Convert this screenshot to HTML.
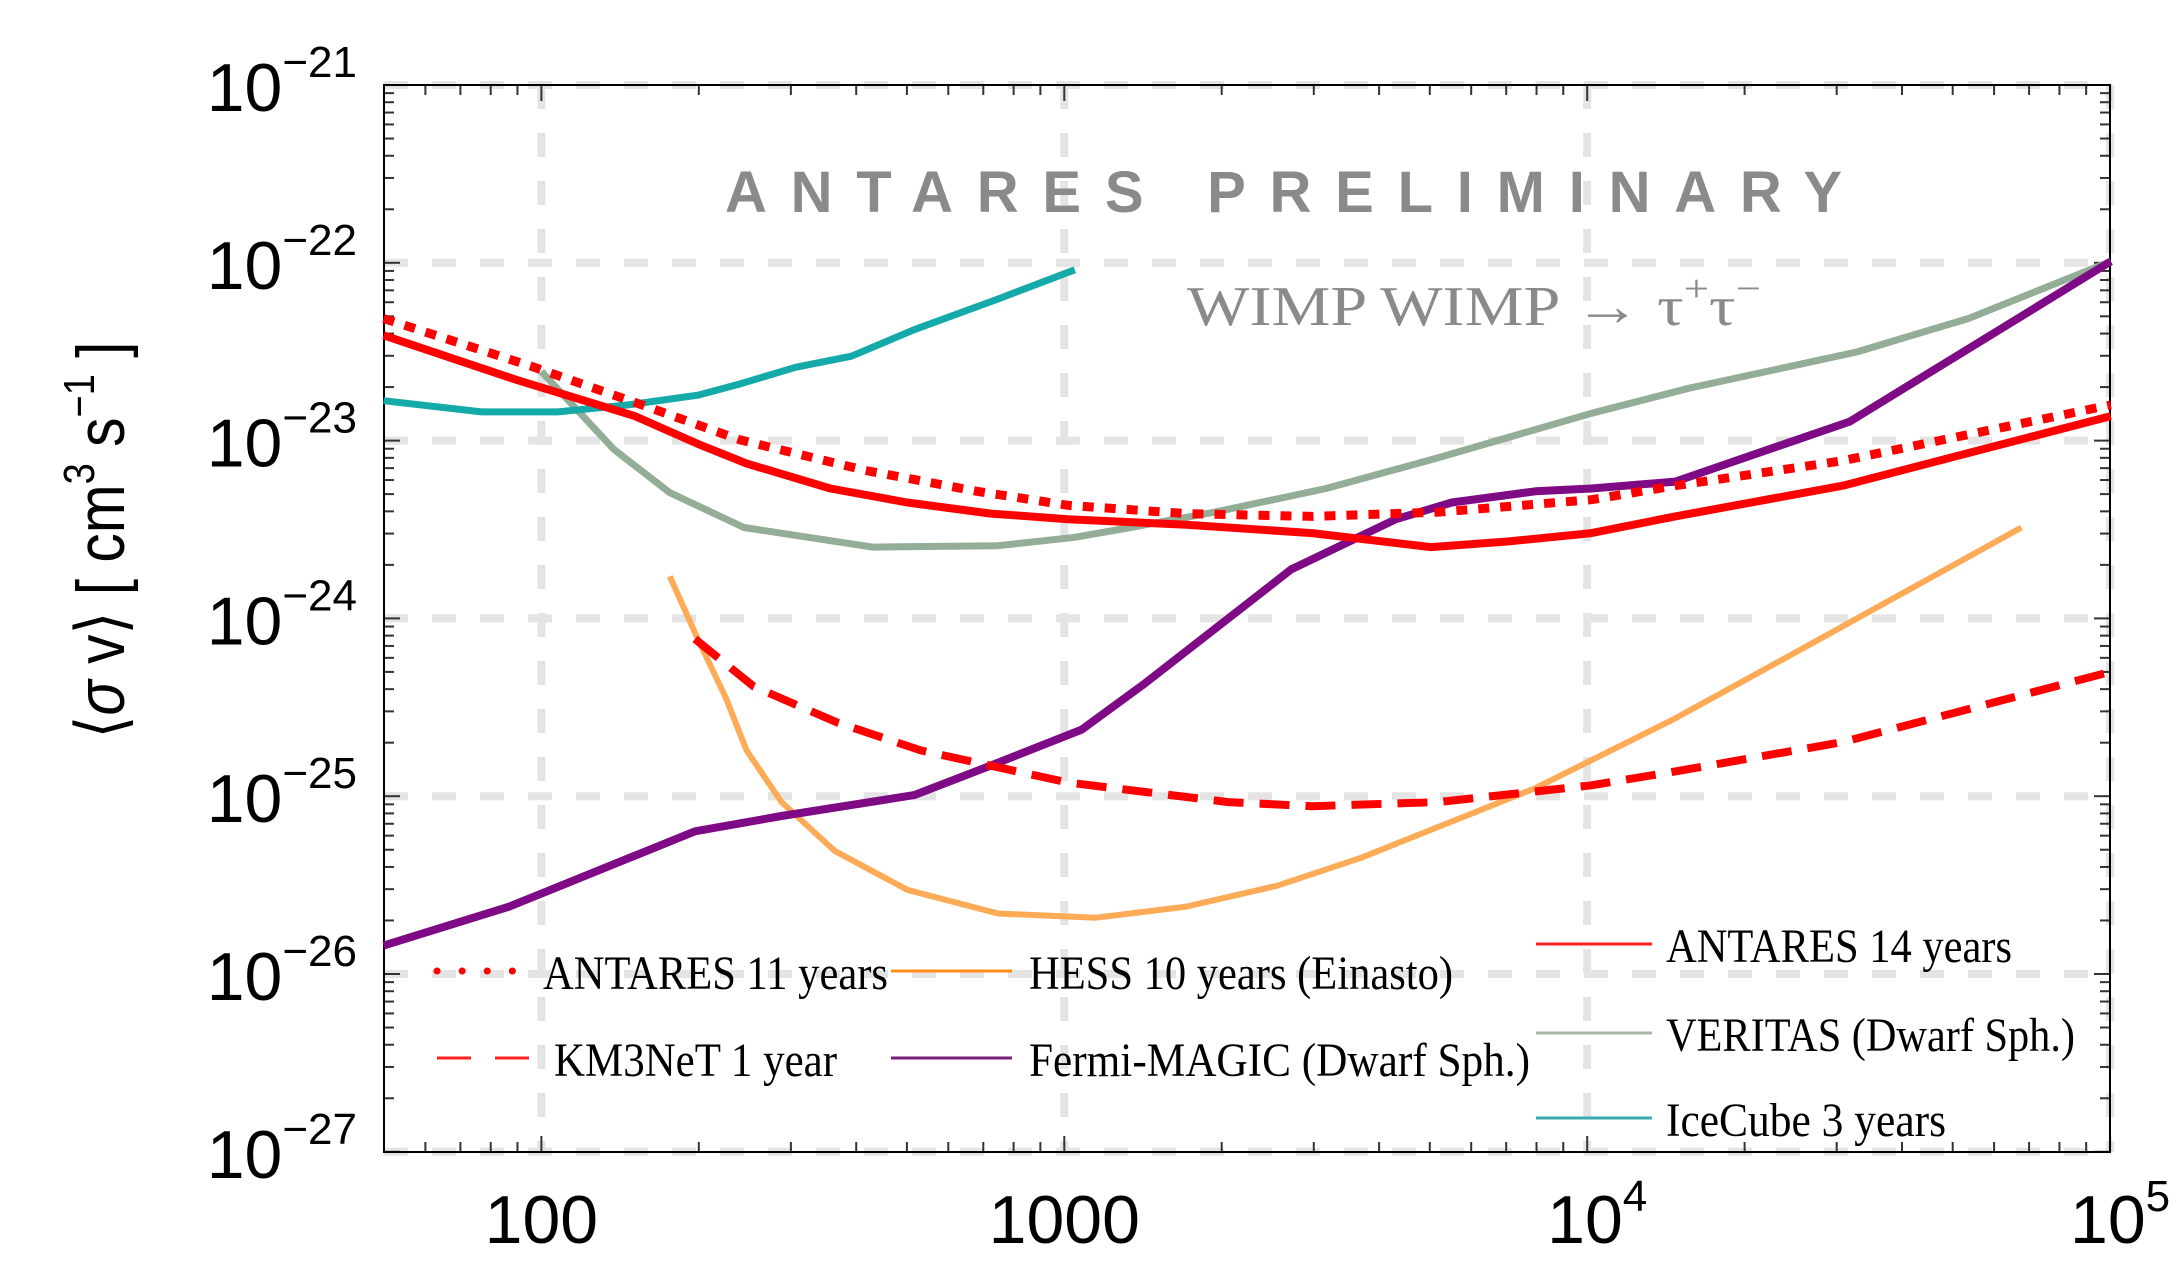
<!DOCTYPE html>
<html><head><meta charset="utf-8"><style>
html,body{margin:0;padding:0;background:#fff;}
svg{display:block;}
</style></head><body>
<svg id="s" width="2184" height="1282" xmlns="http://www.w3.org/2000/svg">
<g id="grid"></g>
<g id="ticks"></g>
<rect x="384" y="85" width="1726" height="1067" fill="none" stroke="#000" stroke-width="2"/>
<text x="725" y="212" font-family="Liberation Sans, sans-serif" font-weight="bold" font-size="58" fill="#8a8a8a" textLength="1117" lengthAdjust="spacing">ANTARES  PRELIMINARY</text>
<text x="1187" y="325" font-family="Liberation Serif, serif" font-size="56" fill="#8a8a8a" textLength="574" lengthAdjust="spacingAndGlyphs">WIMP WIMP → τ<tspan font-size="38" dy="-24">+</tspan><tspan dy="24">τ</tspan><tspan font-size="38" dy="-24">−</tspan></text>
<g id="series" fill="none" stroke-linejoin="round"></g>
<g font-family="Liberation Serif, serif" font-size="48" fill="#000">
<line x1="437" y1="971" x2="525" y2="971" stroke="#ff0000" stroke-width="7" stroke-dasharray="0.1 25" stroke-linecap="round"/>
<text x="543" y="989" textLength="345" lengthAdjust="spacingAndGlyphs">ANTARES 11 years</text>
<line x1="437" y1="1058" x2="471" y2="1058" stroke="#ff2020" stroke-width="3"/>
<line x1="495" y1="1058" x2="529" y2="1058" stroke="#ff2020" stroke-width="3"/>
<text x="554" y="1076" textLength="283" lengthAdjust="spacingAndGlyphs">KM3NeT 1 year</text>
<line x1="891" y1="971" x2="1012" y2="971" stroke="#ff8c1a" stroke-width="3"/>
<text x="1029" y="989" textLength="424" lengthAdjust="spacingAndGlyphs">HESS 10 years (Einasto)</text>
<line x1="891" y1="1058" x2="1012" y2="1058" stroke="#7a1f7a" stroke-width="3"/>
<text x="1029" y="1076" textLength="501" lengthAdjust="spacingAndGlyphs">Fermi-MAGIC (Dwarf Sph.)</text>
<line x1="1536" y1="944" x2="1652" y2="944" stroke="#ff2020" stroke-width="3"/>
<text x="1666" y="962" textLength="346" lengthAdjust="spacingAndGlyphs">ANTARES 14 years</text>
<line x1="1536" y1="1033" x2="1652" y2="1033" stroke="#a8b8a8" stroke-width="3"/>
<text x="1666" y="1051" textLength="409" lengthAdjust="spacingAndGlyphs">VERITAS (Dwarf Sph.)</text>
<line x1="1536" y1="1118" x2="1652" y2="1118" stroke="#3aaab0" stroke-width="3"/>
<text x="1666" y="1136" textLength="280" lengthAdjust="spacingAndGlyphs">IceCube 3 years</text>
</g>
<g id="labels" font-family="Liberation Sans, sans-serif" fill="#000"></g>
<text transform="translate(124,540) rotate(-90)" text-anchor="middle" font-family="Liberation Sans, DejaVu Sans, sans-serif" font-size="68" textLength="397" lengthAdjust="spacingAndGlyphs">⟨<tspan font-style="italic">σ</tspan> v⟩ [ cm<tspan font-size="44" dy="-30">3</tspan><tspan dy="30"> s</tspan><tspan font-size="44" dy="-30">−1</tspan><tspan dy="30"> ]</tspan></text>
</svg>
<script>
var NS="http://www.w3.org/2000/svg";
function X(v){return 384+(Math.log10(v)-1.699)*522.9;}
function Yl(l){return 85+(-21-l)*177.8;}
function el(p,t,a){var e=document.createElementNS(NS,t);for(var k in a)e.setAttribute(k,a[k]);document.getElementById(p).appendChild(e);return e;}
for(var d=-21;d>=-27;d--){var y=Yl(d);el("grid","line",{x1:384,x2:2110,y1:y,y2:y,stroke:"#e4e4e4","stroke-width":8,"stroke-dasharray":"24 24"});}
[100,1000,10000,100000].forEach(function(v){var x=X(v);el("grid","line",{x1:x,x2:x,y1:85,y2:1152,stroke:"#e4e4e4","stroke-width":8,"stroke-dasharray":"24 24"});});
for(var e=1;e<=5;e++)for(var m=1;m<10;m++){var v=m*Math.pow(10,e);if(v<50||v>100000)continue;var x=X(v);var L=(m==1)?16:10;
el("ticks","line",{x1:x,x2:x,y1:1152,y2:1152-L,stroke:"#333","stroke-width":2});
el("ticks","line",{x1:x,x2:x,y1:85,y2:85+L,stroke:"#333","stroke-width":2});}
for(var d=-27;d<=-21;d++)for(var m=1;m<10;m++){if(d==-21&&m>1)continue;var y=Yl(d+Math.log10(m));var L=(m==1)?16:10;
el("ticks","line",{x1:384,x2:384+L,y1:y,y2:y,stroke:"#333","stroke-width":2});
el("ticks","line",{x1:2110,x2:2110-L,y1:y,y2:y,stroke:"#333","stroke-width":2});}
for(var d=-21;d>=-27;d--){var y=Yl(d);var t=el("labels","text",{x:357,y:y+26,"font-size":68,"text-anchor":"end"});
t.innerHTML='10<tspan font-size="44" dy="-34">−'+(-d)+'</tspan>';}
[[100,"100"],[1000,"1000"]].forEach(function(a){var t=el("labels","text",{x:X(a[0]),y:1243,"font-size":68,"text-anchor":"middle"});t.textContent=a[1];});
[[10000,"4"],[100000,"5"]].forEach(function(a){var t=el("labels","text",{x:X(a[0])+10,y:1243,"font-size":68,"text-anchor":"middle"});t.innerHTML='10<tspan font-size="44" dy="-32">'+a[1]+'</tspan>';});
function pt(xd,yd){var lx=2+(xd-388)/374.5;var ly=-22-(yd-188)/127.6;return [X(Math.pow(10,lx)),Yl(ly)];}
function path(pts){return pts.map(function(p,i){var q=pt(p[0],p[1]);return (i?"L":"M")+q[0].toFixed(1)+" "+q[1].toFixed(1);}).join(" ");}
var S=[
[[[388,266],[440,322],[480,353],[533,378],[625,392],[715,391],[770,385],[810,378],[870,367],[950,350],[1030,328],[1140,296],[1210,278],[1330,252],[1410,228],[1512,187]],"#93ad96",7,null],
[[[275,287],[345,295],[400,295],[450,290],[500,283],[530,275],[570,263],[610,255],[655,236],[715,214],[770,193]],"#14aaaa",7,null],
[[[480,413],[500,458],[520,500],[535,538],[560,575],[598,610],[650,638],[715,655],[785,658],[850,650],[915,635],[975,615],[1030,593],[1100,565],[1200,515],[1300,460],[1448,378]],"#fdab57",6,null],
[[[275,678],[365,650],[498,596],[560,585],[655,570],[712,548],[775,523],[820,490],[925,408],[1000,372],[1040,360],[1100,352],[1140,350],[1200,345],[1325,302],[1512,187]],"#7e0a86",8,null],
[[[275,240],[370,272],[455,298],[500,318],[535,332],[595,350],[650,360],[710,368],[765,372],[850,376],[940,382],[1025,392],[1080,388],[1140,382],[1200,370],[1320,348],[1512,298]],"#ff0000",8,null],
[[[275,228],[380,262],[460,290],[530,315],[620,337],[700,352],[765,362],[850,368],[940,370],[1030,367],[1140,358],[1200,348],[1320,330],[1512,290]],"#ff0000",9,"11 11"],
[[[498,458],[540,492],[600,518],[660,538],[765,561],[880,575],[940,578],[1030,575],[1140,563],[1200,553],[1320,532],[1510,482]],"#ff0000",8,"30 16"]
];
S.forEach(function(s){var a={d:path(s[0]),stroke:s[1],"stroke-width":s[2]};if(s[3])a["stroke-dasharray"]=s[3];el("series","path",a);});
</script>
</body></html>
